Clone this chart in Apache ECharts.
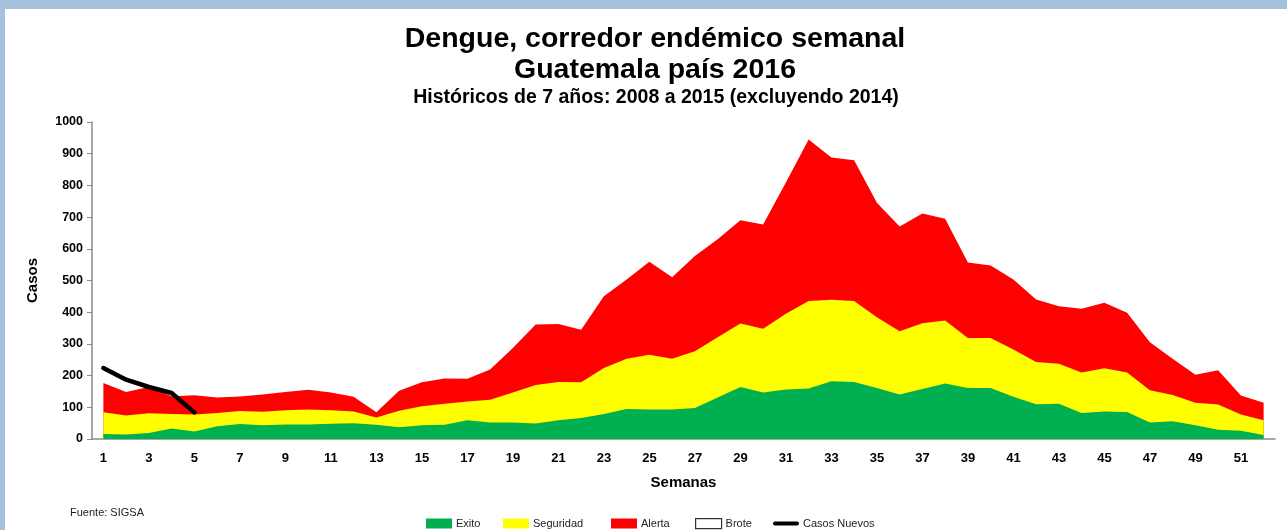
<!DOCTYPE html>
<html>
<head>
<meta charset="utf-8">
<script src="https://cdn.jsdelivr.net/npm/echarts@6/dist/echarts.min.js"></script>
<style>
  html, body { margin: 0; padding: 0; }
  body { width: 1287px; height: 530px; background: #a4c2dd; position: relative; overflow: hidden; }
  .sheet { position: absolute; left: 5px; top: 9px; right: 0; bottom: 0; background: #fff; }
  #chart { position: absolute; left: 0; top: 0; width: 1287px; height: 530px; }
</style>
</head>
<body>
<div class="sheet"></div>
<div id="chart"></div>
<script>
const semanas = []
for (let i = 1; i <= 52; i++) semanas.push(String(i))

// tope de cada franja (casos)
const exito = [16, 14, 19, 33, 24, 40, 47, 43, 46, 46, 48, 50, 45, 37, 43, 45, 59, 52, 52, 49,
  59, 66, 79, 95, 93, 93, 98, 131, 164, 147, 156, 159, 182, 180, 161, 140, 158, 175, 161, 161,
  133, 110, 111, 82, 87, 85, 52, 56, 43, 29, 26, 13]
const seguridad = [84, 74, 81, 79, 77, 82, 88, 86, 91, 93, 91, 87, 68, 89, 103, 111, 118, 124, 147, 170,
  180, 179, 224, 253, 266, 253, 277, 321, 364, 348, 395, 435, 439, 435, 384, 340, 365, 374, 319, 319,
  282, 243, 237, 210, 223, 210, 154, 139, 114, 109, 77, 59]
const alerta = [177, 148, 164, 135, 138, 131, 134, 140, 148, 155, 147, 133, 84, 152, 179, 191, 190, 219, 287, 361,
  363, 345, 450, 503, 559, 510, 577, 630, 690, 677, 809, 945, 888, 879, 745, 670, 711, 695, 557, 547,
  503, 440, 419, 411, 430, 398, 305, 253, 203, 217, 137, 114]
const casosNuevos = [224, 187, 164, 145, 84]

const yTicks = { min: 0, max: 1000, interval: 100 }

const font = 'Liberation Sans, Arial, sans-serif'

const area = (name, data, color, z) => ({
  name,
  type: 'line',
  data,
  z,
  symbol: 'none',
  lineStyle: { width: 0 },
  itemStyle: { color },
  areaStyle: { color, opacity: 1 },
  emphasis: { disabled: true }
})

const legendAt = (left, name) => ({
  left,
  top: 513,
  itemWidth: 26,
  itemHeight: 10,
  itemGap: 0,
  textStyle: { fontSize: 11, color: '#222', fontFamily: font, padding: [0, 0, 0, -1] },
  data: [name]
})

const chart = echarts.init(document.getElementById('chart'))
chart.setOption({
  animation: false,
  textStyle: { fontFamily: font },
  title: [
    {
      text: 'Dengue, corredor endémico semanal\nGuatemala país 2016',
      left: 650,
      top: 19,
      textAlign: 'center',
      textStyle: { fontSize: 28.5, fontWeight: 'bold', color: '#000', lineHeight: 31, fontFamily: font }
    },
    {
      text: 'Históricos de 7 años: 2008 a 2015 (excluyendo 2014)',
      left: 651,
      top: 83,
      textAlign: 'center',
      textStyle: { fontSize: 19.5, fontWeight: 'bold', color: '#000', lineHeight: 20, fontFamily: font }
    }
  ],
  grid: { left: 92, right: 12, top: 122, bottom: 91 },
  xAxis: {
    type: 'category',
    data: semanas,
    boundaryGap: true,
    name: 'Semanas',
    nameLocation: 'middle',
    nameGap: 36,
    nameTextStyle: { fontSize: 15, fontWeight: 'bold', color: '#000' },
    axisLine: { lineStyle: { color: '#8a8a8a', width: 1.5 } },
    axisTick: { interval: 0, length: 5, lineStyle: { color: '#8a8a8a' } },
    axisLabel: { interval: 1, margin: 13, fontSize: 13, fontWeight: 'bold', color: '#000' }
  },
  yAxis: {
    type: 'value',
    min: yTicks.min,
    max: yTicks.max,
    interval: yTicks.interval,
    name: 'Casos',
    nameLocation: 'middle',
    nameRotate: 90,
    nameGap: 52,
    nameTextStyle: { fontSize: 15, fontWeight: 'bold', color: '#000' },
    axisLine: { show: true, lineStyle: { color: '#8a8a8a', width: 1.5 } },
    axisTick: { show: true, length: 5, lineStyle: { color: '#8a8a8a' } },
    splitLine: { show: false },
    axisLabel: { margin: 9, fontSize: 12.5, fontWeight: 'bold', color: '#000', formatter: v => String(v) }
  },
  legend: [
    legendAt(421, { name: 'Exito', icon: 'rect' }),
    legendAt(498, { name: 'Seguridad', icon: 'rect' }),
    legendAt(606, { name: 'Alerta', icon: 'rect' }),
    legendAt(690, { name: 'Brote', icon: 'rect', itemStyle: { color: '#fff', borderColor: '#333', borderWidth: 1.2 } }),
    legendAt(768, { name: 'Casos Nuevos', icon: 'path://M2,0h22a2,2 0 0 1 0,4h-22a2,2 0 0 1 0,-4z', itemStyle: { color: '#000' } })
  ],
  graphic: [{
    type: 'text',
    left: 70,
    top: 507,
    style: { text: 'Fuente: SIGSA', font: '11px ' + font, fill: '#222' }
  }],
  series: [
    area('Alerta', alerta, '#ff0000', 1),
    area('Seguridad', seguridad, '#ffff00', 2),
    area('Exito', exito, '#00b050', 3),
    {
      name: 'Brote',
      type: 'line',
      data: [],
      symbol: 'none',
      itemStyle: { color: '#fff', borderColor: '#333' }
    },
    {
      name: 'Casos Nuevos',
      type: 'line',
      data: casosNuevos,
      z: 5,
      symbol: 'none',
      lineStyle: { color: '#000', width: 4.5, cap: 'round', join: 'round' },
      itemStyle: { color: '#000' }
    }
  ]
})
</script>
</body>
</html>
